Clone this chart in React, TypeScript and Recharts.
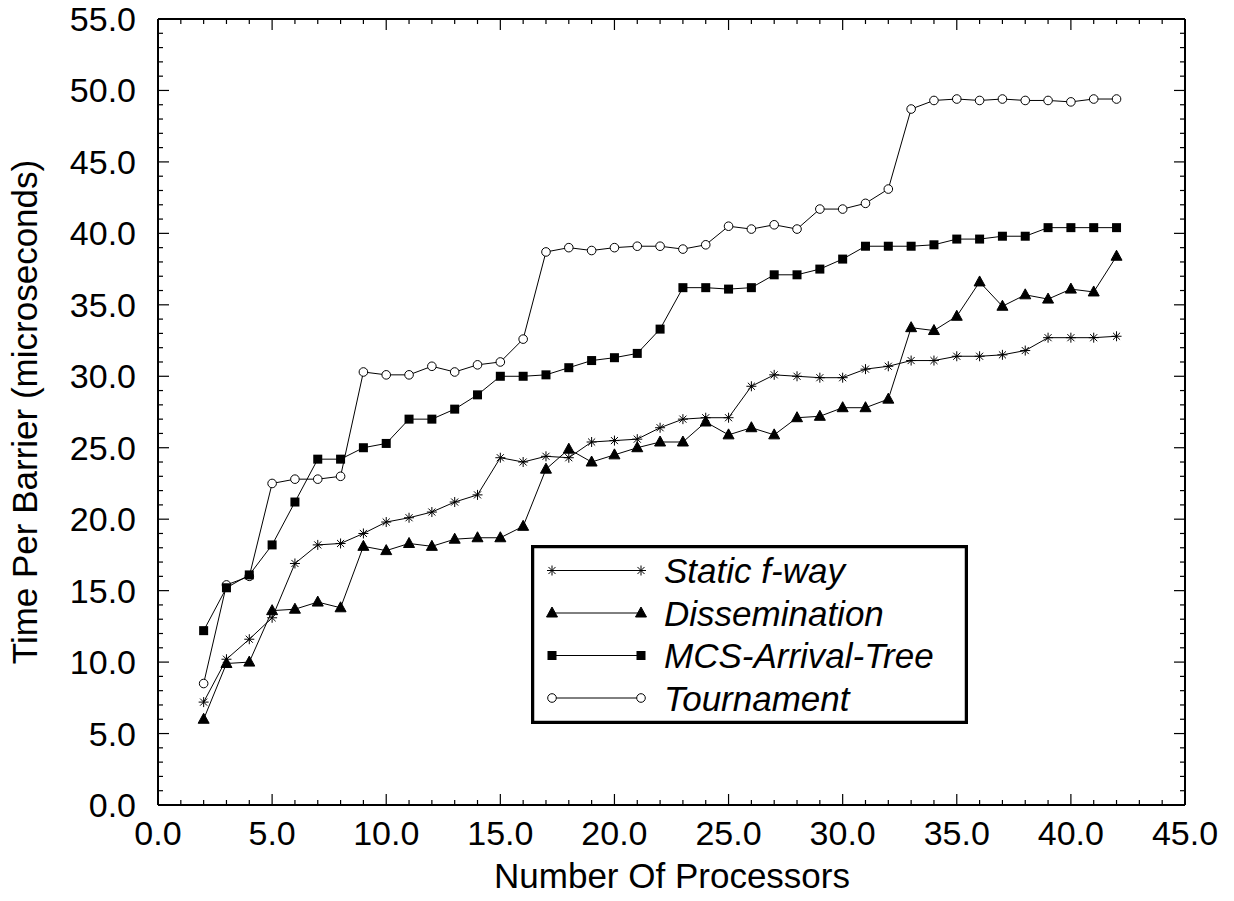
import React from 'react';
import { LineChart, Line, XAxis, YAxis, Legend } from 'recharts';

const processors = [2,3,4,5,6,7,8,9,10,11,12,13,14,15,16,17,18,19,20,21,22,23,24,25,26,27,28,29,30,31,32,33,34,35,36,37,38,39,40,41,42];
const staticFWay = [7.2,10.2,11.6,13.1,16.9,18.2,18.3,19.0,19.8,20.1,20.5,21.2,21.7,24.3,24.0,24.4,24.3,25.4,25.5,25.6,26.4,27.0,27.1,27.1,29.3,30.1,30.0,29.9,29.9,30.5,30.7,31.1,31.1,31.4,31.4,31.5,31.8,32.7,32.7,32.7,32.8];
const dissemination = [6.0,9.9,10.0,13.6,13.7,14.2,13.8,18.1,17.8,18.3,18.1,18.6,18.7,18.7,19.5,23.5,24.9,24.0,24.5,25.0,25.4,25.4,26.8,25.9,26.4,25.9,27.1,27.2,27.8,27.8,28.4,33.4,33.2,34.2,36.6,34.9,35.7,35.4,36.1,35.9,38.4];
const mcsArrivalTree = [12.2,15.2,16.1,18.2,21.2,24.2,24.2,25.0,25.3,27.0,27.0,27.7,28.7,30.0,30.0,30.1,30.6,31.1,31.3,31.6,33.3,36.2,36.2,36.1,36.2,37.1,37.1,37.5,38.2,39.1,39.1,39.1,39.2,39.6,39.6,39.8,39.8,40.4,40.4,40.4,40.4];
const tournament = [8.5,15.4,16.0,22.5,22.8,22.8,23.0,30.3,30.1,30.1,30.7,30.3,30.8,31.0,32.6,38.7,39.0,38.8,39.0,39.1,39.1,38.9,39.2,40.5,40.3,40.6,40.3,41.7,41.7,42.1,43.1,48.7,49.3,49.4,49.3,49.4,49.3,49.3,49.2,49.4,49.4];

const xTicks = Array.from({ length: 46 }, (_, i) => i);
const yTicks = Array.from({ length: 56 }, (_, i) => i);
const seriesNames = ['Static f-way', 'Dissemination', 'MCS-Arrival-Tree', 'Tournament'];
const xTitle = 'Number Of Processors';
const yTitle = 'Time Per Barrier (microseconds)';

const data = processors.map((n, i) => ({
  n,
  s: staticFWay[i],
  d: dissemination[i],
  m: mcsArrivalTree[i],
  t: tournament[i],
}));

const FONT = '"Liberation Sans", Arial, Helvetica, sans-serif';
const TICK_COLOR = '#000';

const Asterisk = ({ cx, cy, r = 5 }: any) => {
  const a = r * Math.SQRT1_2;
  return (
    <g stroke="#000" strokeWidth={1}>
      <line x1={cx} y1={cy - r} x2={cx} y2={cy + r} />
      <line x1={cx - r} y1={cy} x2={cx + r} y2={cy} />
      <line x1={cx - a} y1={cy - a} x2={cx + a} y2={cy + a} />
      <line x1={cx - a} y1={cy + a} x2={cx + a} y2={cy - a} />
    </g>
  );
};
const Triangle = ({ cx, cy, s = 1 }: any) => (
  <polygon
    points={`${cx},${cy - 6 * s} ${cx - 5.5 * s},${cy + 4 * s} ${cx + 5.5 * s},${cy + 4 * s}`}
    fill="#000"
    stroke="#000"
  />
);
const Square = ({ cx, cy, s = 4.5 }: any) => (
  <rect x={cx - s} y={cy - s} width={2 * s} height={2 * s} fill="#000" />
);
const Circle = ({ cx, cy, r = 4.3 }: any) => (
  <circle cx={cx} cy={cy} r={r} fill="#fff" stroke="#000" strokeWidth={1} />
);

const dotFn = (Comp: any, name: string) => (p: any) =>
  p.cx == null || p.cy == null ? <g key={`${name}-${p.index}`} /> : <Comp key={`${name}-${p.index}`} cx={p.cx} cy={p.cy} />;

const tickPath = (d: string) => <path d={d} stroke={TICK_COLOR} strokeWidth={1.2} fill="none" />;

const BottomTick = (p: any) => {
  const v = p.payload.value;
  const major = v % 5 === 0;
  const len = major ? 11 : 5;
  return (
    <g>
      {tickPath(`M${p.x},${p.y}V${p.y - len}`)}
      {major && (
        <text x={p.x} y={p.y + 40} textAnchor="middle" fontFamily={FONT} fontSize={34} fill="#000">
          {v.toFixed(1)}
        </text>
      )}
    </g>
  );
};
const TopTick = (p: any) => {
  const v = p.payload.value;
  const len = v % 5 === 0 ? 11 : 5;
  return <g>{tickPath(`M${p.x},${p.y}V${p.y + len}`)}</g>;
};
const LeftTick = (p: any) => {
  const v = p.payload.value;
  const major = v % 5 === 0;
  const len = major ? 11 : 5;
  return (
    <g>
      {tickPath(`M${p.x},${p.y}H${p.x + len}`)}
      {major && (
        <text x={p.x - 22} y={p.y + 12} textAnchor="end" fontFamily={FONT} fontSize={34} fill="#000">
          {v.toFixed(1)}
        </text>
      )}
    </g>
  );
};
const RightTick = (p: any) => {
  const v = p.payload.value;
  const len = v % 5 === 0 ? 11 : 5;
  return <g>{tickPath(`M${p.x},${p.y}H${p.x - len}`)}</g>;
};

const markers = [Asterisk, Triangle, Square, Circle];

const LegendBox = () => (
  <svg width={437} height={179} style={{ display: 'block' }}>
    <rect x={1.5} y={1.5} width={434} height={176} fill="#fff" stroke="#000" strokeWidth={3.5} />
    {seriesNames.map((name, i) => {
      const cy = 25.5 + i * 42.5;
      const M = markers[i];
      return (
        <g key={name}>
          <line x1={21} x2={110} y1={cy} y2={cy} stroke="#000" strokeWidth={1} />
          <M cx={21} cy={cy} />
          <M cx={110} cy={cy} />
          <text x={133} y={cy + 12.5} fontFamily={FONT} fontStyle="italic" fontSize={35} fill="#000">
            {name}
          </text>
        </g>
      );
    })}
  </svg>
);

export default function App() {
  return (
    <div style={{ width: 1226, height: 893, position: 'relative' }}>
      <LineChart width={1226} height={893} data={data} margin={{ top: 10, right: 48, bottom: 66, left: 90 }}>
        <XAxis
          dataKey="n"
          type="number"
          domain={[0, 45]}
          ticks={xTicks}
          interval={0}
          allowDataOverflow
          height={30}
          tickSize={0}
          tickMargin={0}
          tick={BottomTick}
          axisLine={{ stroke: '#000', strokeWidth: 2 }}
          tickLine={false}
        />
        <XAxis
          xAxisId="top"
          dataKey="n"
          orientation="top"
          type="number"
          domain={[0, 45]}
          ticks={xTicks}
          interval={0}
          allowDataOverflow
          height={1}
          tickSize={0}
          tickMargin={0}
          tick={TopTick}
          axisLine={{ stroke: '#000', strokeWidth: 2 }}
          tickLine={false}
        />
        <YAxis
          type="number"
          domain={[0, 55]}
          ticks={yTicks}
          interval={0}
          allowDataOverflow
          width={60}
          tickSize={0}
          tickMargin={0}
          tick={LeftTick}
          axisLine={{ stroke: '#000', strokeWidth: 2 }}
          tickLine={false}
        />
        <YAxis
          yAxisId="right"
          orientation="right"
          type="number"
          domain={[0, 55]}
          ticks={yTicks}
          interval={0}
          allowDataOverflow
          width={1}
          tickSize={0}
          tickMargin={0}
          tick={RightTick}
          axisLine={{ stroke: '#000', strokeWidth: 2 }}
          tickLine={false}
        />
        <Line xAxisId="top" yAxisId="right" dataKey="t" stroke="none" strokeWidth={0} dot={false} activeDot={false} legendType="none" isAnimationActive={false} />
        <Line dataKey="t" name={seriesNames[3]} stroke="#000" strokeWidth={1} isAnimationActive={false} dot={dotFn(Circle, 't')} activeDot={false} />
        <Line dataKey="m" name={seriesNames[2]} stroke="#000" strokeWidth={1} isAnimationActive={false} dot={dotFn(Square, 'm')} activeDot={false} />
        <Line dataKey="d" name={seriesNames[1]} stroke="#000" strokeWidth={1} isAnimationActive={false} dot={dotFn(Triangle, 'd')} activeDot={false} />
        <Line dataKey="s" name={seriesNames[0]} stroke="#000" strokeWidth={1} isAnimationActive={false} dot={dotFn(Asterisk, 's')} activeDot={false} />
        <Legend
          layout="horizontal"
          verticalAlign="middle"
          align="center"
          content={() => <LegendBox />}
          wrapperStyle={{ left: 523, top: 537, width: 437, height: 179 }}
        />
        <text x={664} y={880} textAnchor="middle" fontFamily={FONT} fontSize={35} fill="#000">
          {xTitle}
        </text>
        <text x={29} y={404} transform="rotate(-90 29 404)" textAnchor="middle" fontFamily={FONT} fontSize={35} fill="#000">
          {yTitle}
        </text>
      </LineChart>
    </div>
  );
}
